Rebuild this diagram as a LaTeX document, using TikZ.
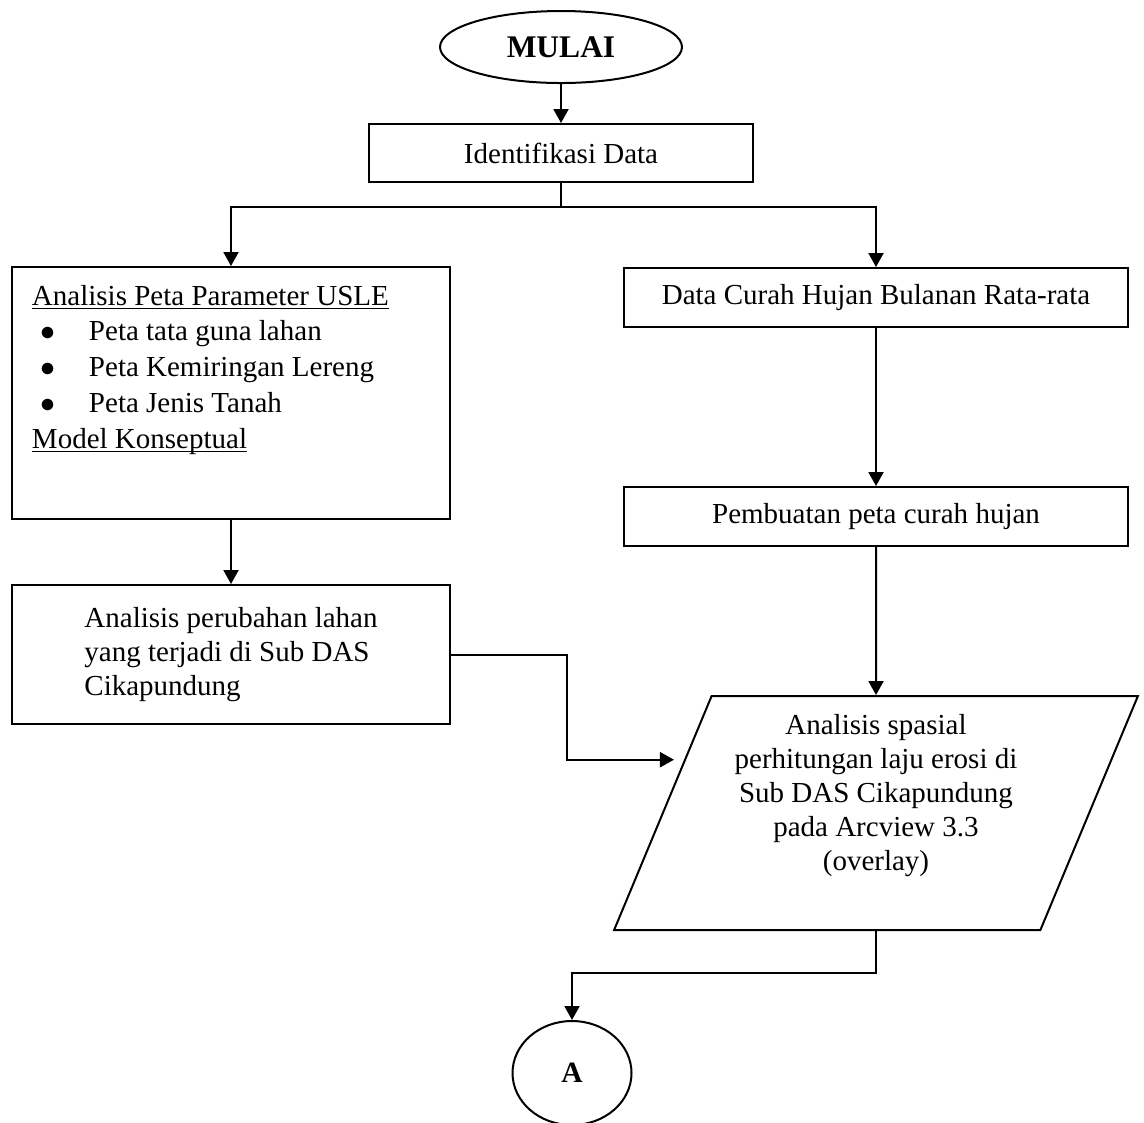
\documentclass[tikz,border=0pt]{standalone}
\usepackage{fontspec}
\setmainfont{Liberation Serif}
\usepackage{tikz}
\usetikzlibrary{positioning,shapes.geometric,arrows.meta,calc}

\newcommand{\butir}{\makebox[22.8pt][l]{\hspace{3.6pt}$\bullet$}}

\begin{document}
\begin{tikzpicture}[x=0.4pt,y=0.4pt,line width=0.8pt,
                    >={Triangle[length=5.6pt,width=6pt]},
                    kotak/.style={rectangle,draw,align=center,font=\fontsize{11.6}{13.6}\selectfont},
                    terminal/.style={ellipse,draw,font=\fontsize{12.6}{14}\selectfont\bfseries},
                    proses/.style={trapezium,draw,trapezium left angle=65.8,trapezium right angle=114.2,
                                   trapezium stretches=true,minimum width=210pt,minimum height=93.6pt,
                                   inner sep=0pt,font=\fontsize{11.6}{13.6}\selectfont}]
	\useasboundingbox (0,0) rectangle (1144,-1122);

	\node[terminal,minimum width=96.8pt,minimum height=28.8pt] (mulai) at (561,-47) {MULAI};
	\node[kotak,minimum width=153.6pt,minimum height=23.2pt] (ident) [below=15.6pt of mulai] {Identifikasi Data};

	\node[kotak,inner ysep=0pt,inner xsep=8pt] (params) at (231,-393)
		{\parbox[c][100.8pt][t]{159.2pt}{\fontsize{11.6}{14.3}\selectfont
		\rule{0pt}{15.2pt}\underline{\smash{Analisis Peta Parameter USLE}}\\
		\butir Peta tata guna lahan\\
		\butir Peta Kemiringan Lereng\\
		\butir Peta Jenis Tanah\\
		\underline{\smash{Model Konseptual}}}};
	\node[kotak,align=left,minimum width=175.2pt,minimum height=55.6pt] (lahan) [below=25.6pt of params]
		{Analisis perubahan lahan\\yang terjadi di Sub DAS\\Cikapundung};

	\node[kotak,minimum width=201.6pt,minimum height=23.6pt] (curah) at (876,-297.5) {Data Curah Hujan Bulanan Rata-rata};
	\node[kotak,minimum width=201.6pt,minimum height=23.6pt] (peta) [below=63.2pt of curah] {Pembuatan peta curah hujan};
	\node[proses] (spasial) [below=59.2pt of peta]
		{\parbox[c][79.2pt][t]{120pt}{\centering Analisis spasial\\perhitungan laju erosi di\\Sub DAS Cikapundung\\pada Arcview 3.3\\(overlay)}};

	\node[terminal,font=\fontsize{11.8}{14}\selectfont\bfseries,minimum width=47.6pt,minimum height=41.6pt] (akhir) at (572,-1073) {A};

	\coordinate (masuk) at ($(spasial.top left corner)!0.274!(spasial.bottom left corner)$);

	\draw[->] (mulai) -- (ident);
	\draw (ident.south) -- ++(0,-24) coordinate (cabang);
	\draw[->] (cabang) -| (params);
	\draw[->] (cabang) -| (curah);
	\draw[->] (params) -- (lahan);
	\draw[->] (curah) -- (peta);
	\draw[->] (peta) -- (spasial);
	\draw[->,shorten >=4pt] (lahan.east) -- ++(116,0) |- (masuk);
	\draw[->] (spasial.south) -- ++(0,-42) -| (akhir);

\end{tikzpicture}
\end{document}
